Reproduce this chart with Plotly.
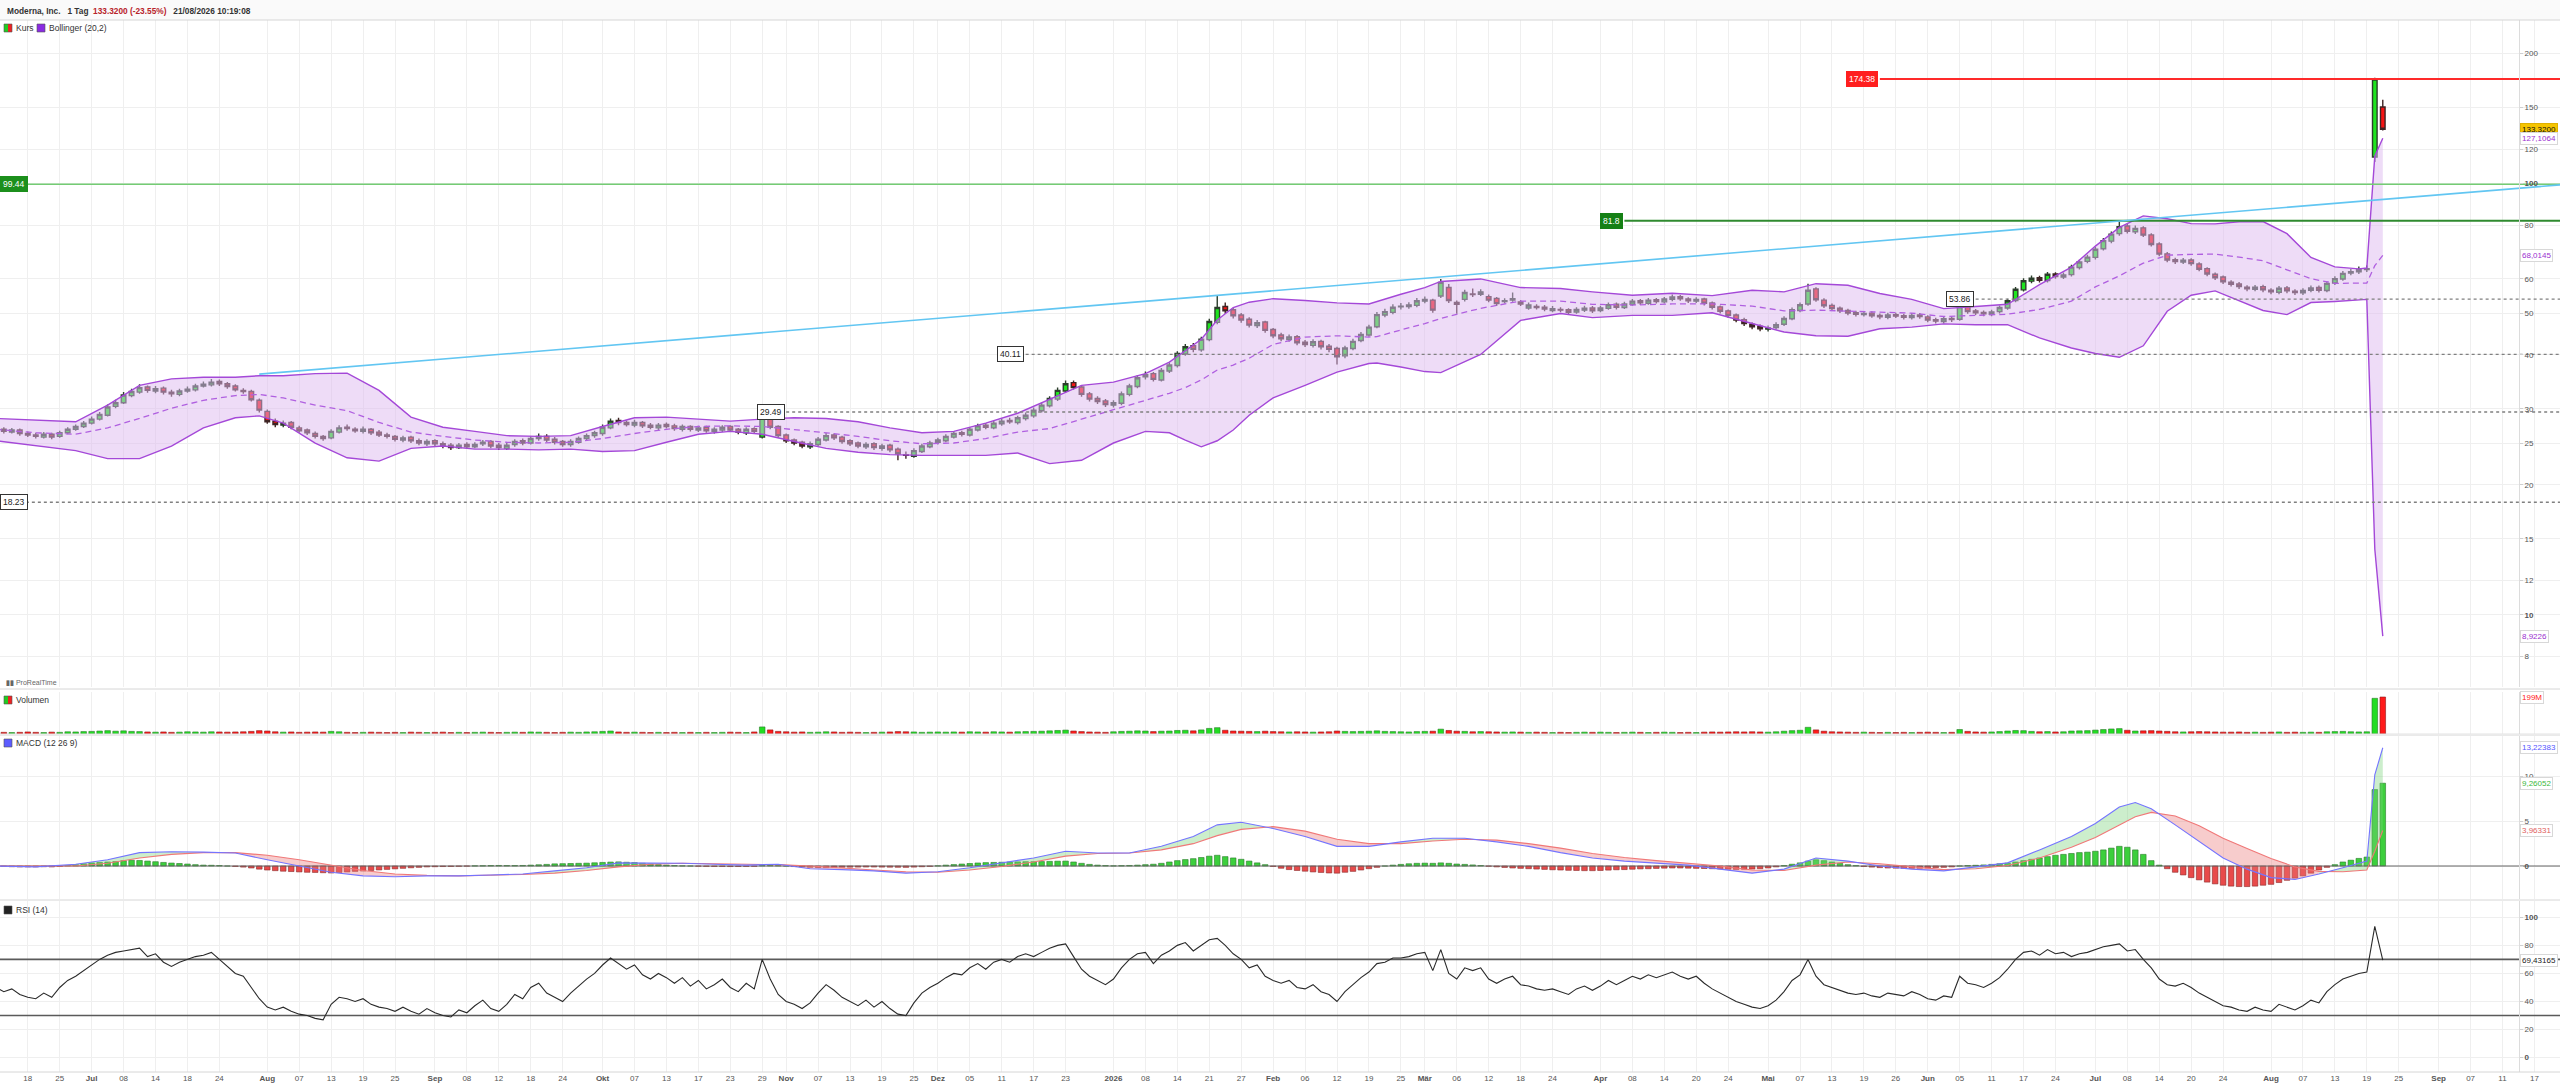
import math
import pandas as pd
import plotly.graph_objects as go

# ---------------- data ----------------
holidays = ["2025-06-19", "2025-07-04", "2025-09-01", "2025-11-27", "2025-12-25",
            "2026-01-01", "2026-01-19", "2026-02-16", "2026-04-03", "2026-05-25",
            "2026-06-19", "2026-07-03"]
first_day = "2025-06-12"
last_axis_day = "2026-09-30"

opens = [27.1, 26.9, 26.5, 26.8, 26.3, 26.1, 25.8, 26.2, 25.9, 26.4,
         26.9, 27.3, 27.8, 28.4, 29.0, 30.4, 31.0, 32.2, 32.8, 33.7,
         33.0, 33.5, 32.8, 32.4, 33.0, 33.2, 33.9, 34.1, 34.7, 34.3,
         33.9, 33.1, 32.9, 31.4, 29.6, 28.1, 27.5, 27.9, 27.1, 26.8,
         26.3, 25.9, 25.7, 26.5, 27.2, 26.9, 26.6, 26.9, 26.5, 26.1,
         25.9, 25.4, 25.8, 25.3, 24.9, 25.3, 24.9, 24.7, 24.4, 24.8,
         24.5, 24.9, 25.2, 24.7, 24.3, 24.8, 25.3, 25.0, 25.6, 25.9,
         25.5, 25.2, 24.8, 25.1, 25.6, 26.0, 26.3, 27.1, 28.2, 27.9,
         27.5, 27.9, 27.5, 27.1, 27.6, 27.4, 26.9, 27.3, 26.8, 27.2,
         26.6, 26.8, 27.3, 26.9, 26.4, 27.0, 25.8, 28.6, 27.3, 26.1,
         25.4, 25.1, 24.5, 24.8, 25.4, 26.1, 25.8, 25.3, 25.0, 24.5,
         24.9, 24.3, 24.7, 24.2, 23.5, 23.3, 23.9, 24.5, 25.1, 25.3,
         25.8, 26.4, 26.1, 26.8, 27.5, 27.1, 27.7, 28.2, 27.9, 28.5,
         28.9, 29.7, 30.5, 31.6, 33.0, 34.5, 33.7, 32.5, 31.7, 31.3,
         30.6, 30.9, 32.4, 33.8, 35.6, 36.2, 35.0, 36.7, 37.8, 40.2,
         42.0, 41.1, 43.4, 47.6, 51.8, 50.9, 49.5, 48.4, 46.8, 47.7,
         45.8, 44.5, 43.4, 44.1, 42.8, 42.1, 43.0, 41.9, 41.4, 39.8,
         41.4, 43.2, 44.5, 46.5, 49.5, 50.2, 51.7, 51.8, 52.1, 53.3,
         53.6, 54.8, 57.3, 52.9, 53.8, 55.4, 55.3, 54.6, 54.1, 53.2,
         53.6, 53.1, 51.4, 51.8, 51.6, 50.7, 51.0, 50.9, 50.3, 50.8,
         51.4, 50.7, 51.3, 52.4, 51.5, 52.4, 53.4, 52.7, 53.7, 53.1,
         53.8, 54.6, 53.9, 53.3, 53.9, 52.8, 51.7, 50.6, 49.5, 48.3,
         47.1, 46.6, 45.9, 46.3, 47.1, 48.5, 50.7, 52.5, 56.9, 53.6,
         52.1, 51.3, 50.7, 50.1, 49.6, 50.0, 49.4, 48.9, 49.6, 49.3,
         48.8, 49.5, 49.0, 48.3, 47.8, 48.6, 48.4, 51.9, 50.6, 50.2,
         49.7, 50.4, 51.4, 53.5, 56.6, 59.3, 60.4, 59.5, 61.6, 60.6,
         61.4, 63.8, 65.9, 67.3, 70.5, 73.4, 76.4, 79.6, 77.2, 78.8,
         75.9, 72.3, 68.6, 66.5, 65.7, 66.4, 65.0, 63.4, 61.5, 60.6,
         59.0, 58.4, 57.4, 56.8, 57.6, 56.5, 55.9, 57.2, 56.2, 55.7,
         56.5, 57.3, 56.4, 58.7, 60.0, 61.9, 62.3, 63.1, 115.0, 150.2]

highs = [27.4, 27.2, 27.1, 27.0, 26.6, 26.4, 26.5, 26.4, 26.7, 27.2,
         27.6, 28.1, 28.8, 29.5, 30.7, 31.5, 32.8, 33.4, 34.2, 34.0,
         33.9, 33.8, 33.2, 33.4, 33.8, 34.3, 34.7, 35.2, 35.1, 34.6,
         34.2, 33.5, 33.2, 31.7, 29.9, 28.5, 28.2, 28.1, 27.4, 27.0,
         26.6, 26.1, 26.9, 27.5, 27.6, 27.2, 27.3, 27.1, 26.8, 26.4,
         26.1, 26.0, 26.0, 25.6, 25.5, 25.5, 25.2, 25.0, 25.0, 25.1,
         25.1, 25.4, 25.4, 25.0, 25.0, 25.5, 25.6, 25.9, 26.3, 26.2,
         25.8, 25.4, 25.5, 25.9, 26.3, 26.7, 27.6, 28.5, 28.6, 28.2,
         28.3, 28.1, 27.8, 27.8, 27.9, 27.7, 27.6, 27.5, 27.4, 27.4,
         27.2, 27.5, 27.5, 27.1, 27.2, 27.2, 29.49, 28.9, 27.5, 26.3,
         25.6, 25.3, 25.2, 25.8, 26.4, 26.3, 26.0, 25.5, 25.2, 25.1,
         25.1, 24.9, 24.9, 24.4, 23.9, 24.3, 24.9, 25.3, 25.7, 26.2,
         26.6, 26.7, 27.2, 27.7, 27.8, 28.1, 28.5, 28.6, 28.9, 29.4,
         30.2, 31.0, 32.1, 33.6, 34.9, 34.9, 34.0, 32.8, 32.1, 31.6,
         31.4, 32.9, 34.3, 35.9, 36.6, 36.5, 37.3, 38.4, 40.8, 42.4,
         42.6, 44.1, 48.5, 55.0, 52.9, 51.4, 50.0, 48.9, 48.2, 48.0,
         46.2, 45.0, 44.6, 44.5, 43.3, 43.5, 43.4, 42.4, 41.8, 42.0,
         43.6, 45.2, 47.0, 50.3, 51.2, 52.4, 52.8, 53.0, 54.2, 54.6,
         54.0, 60.0, 58.4, 53.5, 56.6, 57.0, 56.8, 55.2, 54.5, 54.1,
         55.8, 53.6, 52.9, 52.4, 52.2, 51.9, 51.6, 51.3, 51.6, 52.0,
         51.9, 52.0, 52.9, 52.9, 53.1, 53.9, 53.9, 54.2, 54.2, 54.5,
         55.2, 55.1, 54.4, 54.4, 54.3, 53.2, 52.1, 51.0, 49.9, 48.8,
         47.6, 47.1, 46.8, 47.6, 49.2, 51.5, 52.9, 58.5, 57.4, 54.1,
         52.6, 51.8, 51.2, 50.6, 50.5, 50.5, 49.9, 50.1, 50.1, 49.8,
         50.0, 50.0, 49.4, 48.8, 49.1, 49.1, 53.86, 52.4, 51.1, 50.7,
         50.9, 52.1, 54.0, 57.5, 60.2, 61.1, 61.0, 62.3, 62.2, 62.1,
         64.7, 66.5, 68.3, 71.2, 74.6, 77.3, 81.8, 80.6, 79.8, 79.5,
         76.6, 73.0, 69.3, 67.2, 67.1, 67.0, 65.6, 63.9, 62.1, 61.1,
         59.6, 59.0, 58.0, 58.1, 58.2, 57.1, 57.8, 57.8, 56.8, 57.1,
         57.9, 57.9, 59.3, 60.9, 62.6, 63.3, 64.1, 64.5, 175.5, 156.0]

lows = [26.6, 26.3, 26.3, 26.0, 25.8, 25.6, 25.6, 25.5, 25.7, 26.2,
        26.7, 27.1, 27.6, 28.2, 28.8, 30.1, 30.8, 31.9, 32.5, 32.7,
        32.6, 32.4, 32.0, 32.1, 32.7, 32.9, 33.6, 33.8, 33.9, 33.4,
        32.9, 32.5, 31.2, 29.4, 27.7, 27.2, 27.2, 26.9, 26.4, 26.1,
        25.6, 25.3, 25.5, 26.3, 26.7, 26.4, 26.3, 26.1, 25.8, 25.6,
        25.2, 25.1, 25.0, 24.7, 24.6, 24.6, 24.3, 24.1, 24.2, 24.2,
        24.3, 24.6, 24.3, 24.1, 24.1, 24.5, 24.7, 24.8, 25.3, 25.1,
        24.8, 24.5, 24.5, 24.9, 25.3, 25.7, 26.0, 26.9, 27.5, 27.3,
        27.2, 27.1, 26.9, 26.8, 27.0, 26.7, 26.6, 26.6, 26.5, 26.4,
        26.3, 26.5, 26.5, 26.2, 26.1, 26.3, 25.6, 26.9, 25.7, 25.0,
        24.7, 24.3, 24.2, 24.6, 25.2, 25.4, 24.9, 24.6, 24.3, 24.2,
        24.1, 24.0, 23.8, 22.8, 23.0, 23.1, 23.7, 24.3, 24.8, 25.1,
        25.6, 25.9, 25.9, 26.6, 26.9, 26.9, 27.4, 27.7, 27.6, 28.2,
        28.6, 29.4, 30.2, 31.3, 32.7, 33.2, 32.0, 31.2, 30.8, 30.3,
        30.2, 30.6, 32.1, 33.5, 35.1, 34.7, 34.7, 36.3, 37.4, 39.8,
        40.6, 40.7, 43.0, 47.1, 49.8, 48.6, 47.5, 46.3, 46.2, 45.0,
        43.7, 43.0, 42.9, 42.1, 41.7, 41.6, 41.2, 40.6, 38.0, 39.3,
        41.0, 42.8, 44.1, 46.1, 48.9, 49.7, 51.0, 51.2, 51.6, 52.7,
        50.1, 54.2, 52.8, 49.8, 53.2, 54.5, 54.8, 53.0, 51.9, 52.6,
        53.1, 51.9, 50.9, 51.0, 50.5, 50.2, 50.2, 49.6, 49.8, 50.3,
        50.0, 50.2, 50.9, 51.0, 51.1, 52.0, 52.2, 52.3, 52.6, 52.6,
        53.3, 53.4, 52.8, 52.8, 52.1, 51.0, 49.9, 48.8, 47.6, 46.7,
        45.9, 45.4, 45.3, 45.8, 46.7, 48.1, 50.2, 52.0, 53.1, 51.4,
        50.6, 50.0, 49.4, 49.1, 49.1, 48.8, 48.4, 48.4, 48.7, 48.3,
        48.3, 48.5, 47.6, 47.3, 47.3, 47.7, 48.0, 49.8, 49.5, 49.2,
        49.2, 49.9, 50.9, 53.0, 56.1, 58.6, 58.9, 58.9, 60.1, 60.0,
        60.8, 63.1, 65.2, 66.6, 69.8, 72.6, 75.6, 76.5, 76.3, 75.0,
        71.3, 67.7, 65.6, 65.0, 65.0, 64.4, 62.5, 60.9, 59.7, 58.4,
        57.6, 56.9, 56.2, 56.2, 55.9, 55.3, 55.3, 55.6, 55.1, 55.1,
        55.9, 55.8, 55.9, 58.1, 59.4, 61.2, 61.6, 62.3, 112.0, 132.5]

closes = [26.9, 26.6, 26.8, 26.3, 26.1, 25.9, 26.2, 25.8, 26.4, 26.9,
          27.3, 27.8, 28.4, 29.1, 30.3, 31.0, 32.3, 32.9, 33.6, 33.1,
          33.4, 32.8, 32.5, 33.0, 33.3, 33.9, 34.2, 34.6, 34.3, 33.8,
          33.2, 32.9, 31.5, 29.8, 28.0, 27.6, 27.8, 27.2, 26.7, 26.4,
          25.9, 25.6, 26.6, 27.1, 27.0, 26.7, 26.9, 26.4, 26.1, 25.9,
          25.5, 25.7, 25.3, 25.0, 25.2, 24.9, 24.6, 24.4, 24.7, 24.5,
          24.8, 25.1, 24.6, 24.4, 24.7, 25.2, 25.0, 25.6, 25.9, 25.4,
          25.1, 24.8, 25.2, 25.6, 26.0, 26.4, 27.2, 28.1, 27.9, 27.6,
          27.9, 27.4, 27.2, 27.5, 27.3, 27.0, 27.3, 26.9, 27.1, 26.7,
          26.9, 27.2, 26.8, 26.5, 26.9, 26.6, 28.9, 27.2, 26.0, 25.3,
          25.0, 24.6, 24.9, 25.5, 26.0, 25.7, 25.2, 24.9, 24.6, 24.8,
          24.4, 24.6, 24.1, 23.6, 23.4, 24.0, 24.6, 25.0, 25.4, 25.9,
          26.3, 26.2, 26.9, 27.4, 27.2, 27.8, 28.1, 28.0, 28.6, 29.0,
          29.8, 30.6, 31.7, 33.1, 34.3, 33.6, 32.4, 31.6, 31.2, 30.7,
          31.0, 32.5, 33.9, 35.4, 36.0, 35.1, 36.8, 37.9, 40.3, 41.8,
          41.2, 43.5, 47.8, 51.5, 50.6, 49.3, 48.2, 46.9, 47.5, 45.6,
          44.3, 43.6, 44.0, 42.7, 42.3, 42.9, 41.8, 41.2, 39.6, 41.5,
          43.0, 44.6, 46.4, 49.6, 50.4, 51.6, 51.9, 52.2, 53.4, 53.8,
          50.8, 58.9, 53.5, 52.4, 55.8, 55.2, 56.0, 53.6, 52.6, 53.4,
          54.0, 52.5, 52.2, 51.5, 51.1, 51.2, 50.8, 50.2, 51.0, 51.3,
          50.6, 51.4, 52.3, 51.6, 52.5, 53.3, 52.8, 53.6, 53.2, 53.9,
          54.5, 54.0, 53.4, 53.8, 52.7, 51.6, 50.5, 49.4, 48.2, 47.3,
          46.5, 46.0, 46.2, 47.0, 48.6, 50.9, 52.3, 56.5, 53.7, 52.0,
          51.2, 50.6, 50.0, 49.7, 49.9, 49.3, 49.0, 49.5, 49.2, 48.9,
          49.4, 49.1, 48.2, 47.9, 48.5, 48.3, 51.8, 50.4, 50.1, 49.8,
          50.3, 51.5, 53.4, 56.8, 59.4, 60.2, 59.6, 61.5, 60.8, 61.3,
          63.9, 65.7, 67.4, 70.3, 73.6, 76.2, 79.3, 77.4, 78.6, 75.8,
          72.1, 68.5, 66.4, 65.8, 66.3, 65.1, 63.2, 61.6, 60.4, 59.1,
          58.3, 57.6, 56.9, 57.4, 56.6, 56.0, 57.1, 56.3, 55.8, 56.4,
          57.2, 56.5, 58.6, 60.1, 61.8, 62.4, 63.0, 63.4, 174.38, 133.32]

# volume in millions of shares
volume_m = [10, 9, 8, 9, 11, 9, 8, 10, 9, 12,
            11, 13, 14, 16, 18, 15, 17, 14, 13, 11,
            10, 11, 9, 10, 12, 11, 10, 12, 11, 10,
            11, 12, 14, 18, 16, 12, 10, 11, 9, 10,
            11, 10, 14, 12, 9, 8, 9, 10, 9, 8,
            9, 8, 10, 9, 8, 9, 10, 8, 9, 8,
            9, 10, 9, 8, 9, 10, 9, 11, 10, 9,
            8, 9, 10, 9, 11, 12, 14, 16, 11, 9,
            10, 9, 8, 9, 8, 9, 8, 9, 8, 9,
            8, 9, 10, 9, 8, 11, 38, 22, 14, 12,
            10, 11, 9, 10, 12, 11, 9, 10, 9, 8,
            9, 10, 11, 13, 12, 11, 9, 10, 11, 10,
            11, 10, 12, 11, 10, 12, 11, 10, 12, 13,
            14, 15, 17, 19, 21, 16, 13, 11, 10, 9,
            12, 14, 15, 17, 16, 13, 15, 16, 19, 20,
            17, 22, 30, 34, 20, 16, 15, 14, 13, 15,
            13, 12, 11, 12, 11, 10, 11, 12, 16, 14,
            13, 14, 15, 17, 14, 13, 12, 11, 13, 14,
            15, 26, 19, 15, 14, 12, 13, 12, 11, 10,
            11, 10, 9, 10, 9, 8, 9, 8, 9, 10,
            9, 10, 9, 8, 9, 10, 9, 8, 9, 10,
            9, 8, 9, 8, 10, 11, 10, 11, 12, 11,
            12, 11, 10, 12, 15, 18, 20, 36, 22, 15,
            12, 11, 10, 9, 10, 9, 8, 9, 8, 9,
            8, 9, 10, 9, 8, 9, 24, 14, 11, 10,
            11, 13, 16, 19, 18, 14, 12, 13, 11, 12,
            16, 17, 18, 21, 24, 27, 29, 20, 16, 17,
            18, 16, 14, 12, 11, 12, 13, 12, 11, 10,
            10, 11, 9, 10, 9, 10, 11, 9, 10, 9,
            10, 9, 12, 13, 14, 12, 11, 12, 192, 199]

# Bollinger (20,2), sampled on these trading-day numbers
bb_days = [0, 5, 10, 14, 18, 22, 26, 30, 33, 36, 40, 44, 48, 52, 56, 60, 64, 68, 72, 76,
           80, 84, 88, 92, 96, 100, 104, 108, 112, 116, 120, 124, 128, 132, 136, 140, 144, 147, 149, 151,
           153, 155, 157, 160, 164, 168, 172, 173, 176, 179, 181, 186, 191, 196, 200, 205, 210, 215, 220, 224,
           228, 232, 236, 240, 244, 248, 252, 256, 260, 263, 266, 269, 272, 275, 278, 281, 284, 287, 290, 293,
           296, 297, 298, 299]
bb_upper = [28.5, 28.2, 28.0, 30.6, 34.0, 35.2, 35.5, 35.5, 35.8, 35.8, 36.2, 36.3, 33.1, 28.7, 27.2, 26.6, 26.0, 25.9, 26.0, 27.3,
            28.6, 28.7, 28.4, 28.1, 28.4, 28.6, 28.5, 28.0, 27.1, 26.4, 26.6, 27.8, 29.3, 31.6, 34.0, 34.6, 36.2, 38.5, 41.0, 43.5,
            48.2, 51.5, 53.0, 54.0, 53.5, 52.8, 52.5, 53.2, 55.3, 57.3, 59.2, 60.0, 57.3, 57.0, 56.0, 55.0, 55.6, 54.9, 56.5, 56.0,
            58.5, 58.0, 55.5, 53.8, 51.2, 51.8, 52.4, 58.2, 63.9, 71.5, 79.0, 84.0, 82.7, 80.6, 80.5, 81.4, 81.5, 76.4, 67.3, 64.0,
            63.3, 63.6, 115.5, 127.1064]
bb_mid = [26.9, 26.4, 26.2, 27.1, 28.5, 30.1, 31.4, 32.2, 32.4, 31.8, 30.6, 29.7, 27.9, 26.5, 25.9, 25.4, 25.1, 25.0, 25.1, 25.6,
          26.3, 26.9, 27.3, 27.4, 27.3, 26.9, 26.4, 25.9, 25.3, 24.9, 25.0, 25.6, 26.5, 27.0, 28.4, 29.8, 31.4, 32.6, 33.6, 35.0,
          36.9, 37.9, 39.3, 42.3, 44.0, 44.3, 44.0, 44.1, 45.7, 47.3, 48.6, 51.3, 53.3, 53.3, 52.4, 52.2, 52.5, 52.5, 51.9, 50.6,
          50.8, 50.5, 50.3, 50.0, 49.1, 49.4, 49.7, 51.0, 53.3, 57.5, 61.0, 65.3, 68.1, 68.4, 68.5, 67.4, 66.1, 63.0, 60.1, 58.6,
          58.5, 58.7, 64.4, 68.0145]
bb_lower = [25.3, 24.6, 24.0, 23.0, 23.0, 24.6, 27.1, 28.6, 28.9, 27.8, 25.0, 23.1, 22.7, 24.3, 24.6, 24.2, 24.2, 24.1, 24.2, 23.9,
            24.0, 25.1, 26.2, 26.6, 26.2, 25.2, 24.3, 23.8, 23.5, 23.4, 23.4, 23.4, 23.7, 22.4, 22.8, 25.0, 26.6, 26.4, 25.4, 24.5,
            25.3, 26.8, 29.0, 31.8, 34.0, 36.5, 38.2, 38.3, 37.5, 36.6, 36.4, 40.1, 48.1, 49.9, 48.8, 49.4, 49.4, 50.1, 47.3, 45.2,
            44.3, 44.2, 46.0, 46.4, 47.2, 47.0, 47.0, 43.8, 41.5, 40.3, 39.5, 42.0, 50.5, 55.0, 56.3, 53.4, 50.7, 49.6, 52.9, 53.2,
            53.7, 53.8, 14.2, 8.9226]

# MACD (12 26 9): line and signal sampled, histogram per day
macd_days = [0, 5, 10, 14, 18, 22, 26, 30, 34, 38, 42, 46, 50, 54, 58, 62, 66, 70, 74, 78,
             82, 86, 90, 94, 98, 102, 106, 110, 114, 118, 122, 126, 130, 134, 138, 142, 146, 150, 153, 156,
             160, 164, 168, 172, 176, 180, 184, 188, 192, 196, 200, 204, 208, 212, 216, 220, 224, 228, 232, 236,
             240, 244, 248, 252, 256, 260, 263, 266, 268, 270, 273, 276, 279, 282, 285, 288, 291, 294, 297, 298,
             299]
macd_line = [0.0, -0.1, 0.2, 0.7, 1.5, 1.6, 1.55, 1.45, 0.7, 0.0, -0.7, -1.1, -1.2, -1.1, -1.1, -1.0, -0.9, -0.55, -0.2, 0.35,
             0.35, 0.3, 0.2, 0.1, 0.2, -0.3, -0.4, -0.55, -0.8, -0.65, -0.2, 0.35, 0.9, 1.65, 1.45, 1.45, 2.2, 3.3, 4.6, 4.9,
             4.2, 3.3, 2.2, 2.2, 2.7, 3.1, 3.1, 2.7, 2.2, 1.5, 0.9, 0.55, 0.35, 0.1, -0.35, -0.8, -0.35, 0.9, 0.55, 0.0,
             -0.35, -0.55, -0.1, 0.35, 1.8, 3.3, 4.75, 6.6, 7.1, 6.4, 4.6, 2.7, 0.9, -0.35, -1.3, -1.5, -0.9, -0.2, 0.55, 10.2,
             13.22383]
macd_signal = [0.0, 0.0, 0.0, 0.3, 0.9, 1.3, 1.5, 1.5, 1.2, 0.7, 0.1, -0.5, -0.9, -1.05, -1.1, -1.05, -0.95, -0.8, -0.5, -0.1,
               0.2, 0.3, 0.25, 0.15, 0.15, 0.0, -0.25, -0.45, -0.65, -0.7, -0.45, -0.05, 0.45, 1.1, 1.4, 1.45, 1.8, 2.5, 3.4, 4.1,
               4.4, 3.9, 3.0, 2.5, 2.5, 2.8, 3.0, 2.9, 2.5, 2.0, 1.4, 0.95, 0.6, 0.3, 0.0, -0.45, -0.5, 0.1, 0.45, 0.25,
               -0.1, -0.4, -0.3, 0.05, 0.9, 2.1, 3.2, 4.6, 5.5, 6.0, 5.6, 4.5, 3.1, 1.95, 0.85, -0.1, -0.6, -0.65, -0.45, 1.65,
               3.96331]
macd_hist = [-0.02, -0.05, -0.08, -0.1, -0.1, -0.1, -0.08, -0.1, -0.05, 0.05,
             0.15, 0.25, 0.35, 0.4, 0.45, 0.5, 0.6, 0.65, 0.62, 0.55,
             0.48, 0.4, 0.33, 0.28, 0.22, 0.15, 0.1, 0.08, 0.05, 0.0,
             -0.05, -0.12, -0.22, -0.35, -0.45, -0.52, -0.58, -0.62, -0.66, -0.7,
             -0.72, -0.75, -0.78, -0.72, -0.66, -0.6, -0.56, -0.5, -0.44, -0.38,
             -0.32, -0.26, -0.2, -0.15, -0.1, -0.08, -0.06, -0.05, -0.03, -0.01,
             0.02, 0.03, 0.05, 0.06, 0.05, 0.05, 0.06, 0.1, 0.14, 0.18,
             0.24, 0.26, 0.28, 0.3, 0.32, 0.36, 0.4, 0.44, 0.46, 0.42,
             0.38, 0.3, 0.22, 0.16, 0.1, 0.05, 0.02, 0.0, -0.02, -0.04,
             -0.05, -0.05, -0.06, -0.05, -0.04, -0.03, 0.05, 0.06, 0.05, 0.0,
             -0.06, -0.1, -0.14, -0.16, -0.18, -0.16, -0.14, -0.13, -0.12, -0.11,
             -0.11, -0.12, -0.13, -0.14, -0.15, -0.12, -0.08, -0.04, 0.02, 0.1,
             0.16, 0.22, 0.28, 0.34, 0.38, 0.4, 0.42, 0.44, 0.46, 0.48,
             0.48, 0.5, 0.52, 0.54, 0.55, 0.45, 0.3, 0.18, 0.1, 0.05,
             0.02, 0.04, 0.06, 0.1, 0.15, 0.2, 0.3, 0.45, 0.6, 0.72,
             0.82, 0.95, 1.1, 1.2, 1.05, 0.9, 0.75, 0.55, 0.35, 0.15,
             -0.05, -0.25, -0.4, -0.5, -0.58, -0.66, -0.72, -0.78, -0.8, -0.7,
             -0.6, -0.45, -0.3, -0.15, 0.0, 0.1, 0.18, 0.25, 0.3, 0.32,
             0.3, 0.35, 0.3, 0.22, 0.18, 0.12, 0.05, -0.02, -0.1, -0.16,
             -0.22, -0.26, -0.3, -0.34, -0.38, -0.42, -0.45, -0.48, -0.5, -0.52,
             -0.52, -0.5, -0.46, -0.42, -0.4, -0.36, -0.32, -0.3, -0.27, -0.24,
             -0.22, -0.22, -0.24, -0.26, -0.28, -0.3, -0.33, -0.36, -0.38, -0.36,
             -0.34, -0.3, -0.22, -0.1, 0.05, 0.2, 0.35, 0.55, 0.7, 0.6,
             0.45, 0.3, 0.15, 0.05, -0.05, -0.12, -0.18, -0.22, -0.24, -0.25,
             -0.26, -0.25, -0.22, -0.18, -0.15, -0.1, 0.0, 0.05, 0.08, 0.12,
             0.18, 0.25, 0.32, 0.45, 0.6, 0.75, 0.9, 1.05, 1.2, 1.3,
             1.4, 1.5, 1.55, 1.65, 1.8, 2.0, 2.2, 2.1, 1.8, 1.3,
             0.6, 0.1, -0.3, -0.7, -1.0, -1.3, -1.55, -1.8, -2.0, -2.15,
             -2.25, -2.3, -2.3, -2.25, -2.15, -2.05, -1.85, -1.6, -1.35, -1.1,
             -0.8, -0.45, -0.15, 0.15, 0.45, 0.65, 0.85, 1.0, 8.55, 9.26052]

rsi = [50, 47, 49, 45, 43, 42, 46, 43, 50, 55,
       58, 62, 66, 70, 73, 75, 76, 77, 78, 72,
       74, 68, 65, 68, 70, 72, 73, 75, 70, 65,
       60, 58, 50, 42, 36, 34, 36, 33, 31, 30,
       28, 27, 38, 43, 42, 40, 42, 38, 36, 35,
       33, 36, 33, 31, 35, 32, 30, 29, 34, 32,
       37, 41, 35, 33, 38, 45, 42, 50, 53, 46,
       43, 40, 46, 51, 56, 60, 66, 71, 67, 63,
       66, 59, 56, 60, 57, 53, 57, 51, 55, 49,
       52, 56, 50, 47, 53, 49, 70, 56, 45, 40,
       38, 35, 39, 46, 52, 48, 43, 40, 37, 41,
       36, 40, 35, 31, 30, 39, 46, 50, 53, 57,
       60, 59, 64, 67, 63, 68, 70, 68, 72, 74,
       72, 75, 78, 80, 81, 72, 63, 58, 55, 52,
       56, 64, 70, 74, 75, 67, 73, 76, 80, 82,
       76, 80, 84, 85, 80, 74, 70, 64, 66, 58,
       55, 53, 55, 50, 49, 52, 47, 45, 40, 47,
       52, 57, 61, 67, 68, 71, 71, 72, 74, 75,
       62, 77, 60, 56, 64, 62, 64, 56, 53, 56,
       58, 52, 51, 49, 48, 49, 47, 45, 49, 51,
       48, 51, 55, 52, 55, 58, 56, 59, 57, 59,
       61, 58, 56, 58, 53, 49, 46, 43, 40, 38,
       36, 35, 37, 41, 47, 55, 59, 70, 58, 52,
       50, 48, 46, 45, 46, 44, 43, 46, 45, 44,
       47, 45, 42, 41, 44, 43, 58, 53, 52, 50,
       53, 57, 63, 70, 75, 76, 73, 77, 74, 75,
       72, 74, 75, 77, 79, 80, 81, 76, 77, 70,
       64, 56, 52, 51, 53, 50, 46, 43, 40, 37,
       36, 34, 33, 36, 34, 33, 38, 36, 34, 37,
       41, 39, 47, 52, 56, 58, 60, 61, 93.5, 69.43165]

# drawn objects on the price panel
trend_dates = ["2025-07-31", "2026-09-25"]
trend_values = [36.1, 100.1]
level_values = [174.38, 99.44, 81.8, 53.86, 40.11, 29.49, 18.23]
level_from = ["2026-05-21", "2025-06-12", "2026-04-07", "2026-06-09", "2025-12-16", "2025-11-03", "2025-06-12"]

tick_dates = ["2025-06-12", "2025-06-18", "2025-06-25", "2025-07-01", "2025-07-08", "2025-07-14", "2025-07-18",
              "2025-07-24", "2025-08-01", "2025-08-07", "2025-08-13", "2025-08-19", "2025-08-25", "2025-09-02",
              "2025-09-08", "2025-09-12", "2025-09-18", "2025-09-24", "2025-10-01", "2025-10-07", "2025-10-13",
              "2025-10-17", "2025-10-23", "2025-10-29", "2025-11-03", "2025-11-07", "2025-11-13", "2025-11-19",
              "2025-11-25", "2025-12-01", "2025-12-05", "2025-12-11", "2025-12-17", "2025-12-23", "2026-01-02",
              "2026-01-08", "2026-01-14", "2026-01-21", "2026-01-27", "2026-02-02", "2026-02-06", "2026-02-12",
              "2026-02-19", "2026-02-25", "2026-03-02", "2026-03-06", "2026-03-12", "2026-03-18", "2026-03-24",
              "2026-04-01", "2026-04-08", "2026-04-14", "2026-04-20", "2026-04-24", "2026-05-01", "2026-05-07",
              "2026-05-13", "2026-05-19", "2026-05-26", "2026-06-01", "2026-06-05", "2026-06-11", "2026-06-17",
              "2026-06-24", "2026-07-01", "2026-07-08", "2026-07-14", "2026-07-20", "2026-07-24", "2026-08-03",
              "2026-08-07", "2026-08-13", "2026-08-19", "2026-08-25", "2026-09-01", "2026-09-07", "2026-09-11",
              "2026-09-17"]
tick_labels = ["12", "18", "25", "Jul", "08", "14", "18", "24", "Aug", "07", "13", "19", "25", "Sep",
               "08", "12", "18", "24", "Okt", "07", "13", "17", "23", "29", "Nov", "07", "13", "19",
               "25", "Dez", "05", "11", "17", "23", "2026", "08", "14", "21", "27", "Feb", "06", "12",
               "19", "25", "Mär", "06", "12", "18", "24", "Apr", "08", "14", "20", "24", "Mai", "07",
               "13", "19", "26", "Jun", "05", "11", "17", "24", "Jul", "08", "14", "20", "24", "Aug",
               "07", "13", "19", "25", "Sep", "07", "11", "17"]
price_ticks = [8, 10, 12, 15, 20, 25, 30, 40, 50, 60, 80, 100, 120, 150, 200]

# ---------------- build ----------------
n = len(closes)
assert len(opens) == n and len(highs) == n and len(lows) == n and len(volume_m) == n
assert len(macd_hist) == n and len(rsi) == n
assert len(bb_days) == len(bb_upper) == len(bb_mid) == len(bb_lower)
assert len(macd_days) == len(macd_line) == len(macd_signal)

days = pd.bdate_range(first_day, last_axis_day, freq="C", holidays=holidays)
dates = [d.strftime("%Y-%m-%d") for d in days]
cd = dates[:n]

FONT = "Liberation Sans"
W, H, B = 2560, 1086, 14
PH = H - B


def py(y):  # screen row -> paper fraction
    return (PH - y) / PH


def de(v, nd):
    return f"{v:.{nd}f}".replace(".", ",")


AXPOS = 2519 / W
x_range = [0.52, 321.2]
up = [c >= o for o, c in zip(opens, closes)]

fig = go.Figure()

# Bollinger band
bbx = [dates[i] for i in bb_days]
fig.add_trace(go.Scatter(x=bbx, y=bb_upper, mode="lines", line=dict(color="#a448d8", width=1.4),
                         hoverinfo="skip", xaxis="x", yaxis="y"))
fig.add_trace(go.Scatter(x=bbx, y=bb_lower, mode="lines", line=dict(color="#a448d8", width=1.4),
                         fill="tonexty", fillcolor="rgba(222,186,240,0.5)", hoverinfo="skip",
                         xaxis="x", yaxis="y"))
fig.add_trace(go.Scatter(x=bbx, y=bb_mid, mode="lines", line=dict(color="#b060e0", width=1.3, dash="6px,4px"),
                         hoverinfo="skip", xaxis="x", yaxis="y"))

# horizontal levels
level_style = [("#ff2a2a", 2, "solid"), ("#74cc74", 1.6, "solid"), ("#2f8a2f", 2, "solid"),
               ("#808080", 1.4, "3px,3px"), ("#808080", 1.4, "3px,3px"), ("#808080", 1.4, "3px,3px"),
               ("#808080", 1.4, "3px,3px")]
for v, d0, (col, lw, dash) in zip(level_values, level_from, level_style):
    xs = dates[dates.index(d0):]
    fig.add_trace(go.Scatter(x=xs, y=[v] * len(xs), mode="lines", line=dict(color=col, width=lw, dash=dash),
                             hoverinfo="skip", xaxis="x", yaxis="y"))

# trend line
fig.add_trace(go.Scatter(x=trend_dates, y=trend_values, mode="lines", line=dict(color="#62c6f2", width=1.6),
                         hoverinfo="skip", xaxis="x", yaxis="y"))

# candles
fig.add_trace(go.Candlestick(
    x=cd, open=opens, high=highs, low=lows, close=closes, xaxis="x", yaxis="y",
    increasing=dict(fillcolor="#1fe51f", line=dict(color="#2c3e2c", width=1.4)),
    decreasing=dict(fillcolor="#f51414", line=dict(color="#3e2424", width=1.4)),
    whiskerwidth=0, hoverinfo="skip"))

# volume
fig.add_trace(go.Bar(x=cd, y=[v * 1e6 for v in volume_m],
                     marker=dict(color=["#22dd22" if u else "#ff1a1a" for u in up],
                                 line=dict(color=["#2a7a2a" if u else "#8a1a1a" for u in up], width=0.6)),
                     xaxis="x2", yaxis="y2", hoverinfo="skip"))
fig.add_trace(go.Scatter(x=dates, y=[0] * len(dates), mode="lines", line=dict(color="#e2e2e2", width=1),
                         xaxis="x2", yaxis="y2", hoverinfo="skip"))

# MACD clouds
mdx = [dates[i] for i in macd_days]
for pos, col in ((True, "rgba(120,210,120,0.38)"), (False, "rgba(235,120,120,0.38)")):
    xs, ys = [], []
    for i in range(len(macd_days) - 1):
        d = (macd_line[i] - macd_signal[i]) + (macd_line[i + 1] - macd_signal[i + 1])
        if (d >= 0) == pos:
            xs += [mdx[i], mdx[i + 1], mdx[i + 1], mdx[i], mdx[i], None]
            ys += [macd_line[i], macd_line[i + 1], macd_signal[i + 1], macd_signal[i], macd_line[i], None]
    fig.add_trace(go.Scatter(x=xs, y=ys, mode="lines", fill="toself", fillcolor=col, line=dict(width=0),
                             xaxis="x3", yaxis="y3", hoverinfo="skip"))
fig.add_trace(go.Bar(x=cd, y=macd_hist,
                     marker=dict(color=["#3ccf3c" if h >= 0 else "#e84a4a" for h in macd_hist],
                                 line=dict(color=["#2a7a2a" if h >= 0 else "#8a2a2a" for h in macd_hist],
                                           width=0.6)),
                     xaxis="x3", yaxis="y3", hoverinfo="skip"))
fig.add_trace(go.Scatter(x=dates, y=[0] * len(dates), mode="lines", line=dict(color="#666666", width=1.2),
                         xaxis="x3", yaxis="y3", hoverinfo="skip"))
fig.add_trace(go.Scatter(x=mdx, y=macd_signal, mode="lines", line=dict(color="#f07878", width=1.1),
                         xaxis="x3", yaxis="y3", hoverinfo="skip"))
fig.add_trace(go.Scatter(x=mdx, y=macd_line, mode="lines", line=dict(color="#7474ff", width=1.1),
                         xaxis="x3", yaxis="y3", hoverinfo="skip"))

# RSI
for lvl in (70, 30):
    fig.add_trace(go.Scatter(x=dates, y=[lvl] * len(dates), mode="lines", line=dict(color="#5a5a5a", width=1.6),
                             xaxis="x4", yaxis="y4", hoverinfo="skip"))
fig.add_trace(go.Scatter(x=cd, y=rsi, mode="lines", line=dict(color="#2a2a2a", width=1.1),
                         xaxis="x4", yaxis="y4", hoverinfo="skip"))

# ---------------- layout ----------------
tt = [f"<b>{t}</b>" if not t.isdigit() or len(t) == 4 else t for t in tick_labels]
xbase = dict(type="category", categoryorder="array", categoryarray=dates, range=x_range,
             tickmode="array", tickvals=tick_dates, ticktext=tt, showgrid=True, gridcolor="#efefef",
             gridwidth=1, zeroline=False, showline=False, ticks="", automargin=False, fixedrange=True,
             rangeslider=dict(visible=False))
ybase = dict(anchor="free", position=AXPOS, side="right", showline=True, linecolor="#dcdcdc", linewidth=1,
             gridcolor="#efefef", gridwidth=1, zeroline=False, ticks="outside", ticklen=3, tickcolor="#cfcfcf",
             tickfont=dict(family=FONT, size=8, color="#555555"), automargin=False, fixedrange=True)

lo, hi = math.log10(6.80), math.log10(238.9)
fig.update_layout(
    width=W, height=H, margin=dict(l=0, r=0, t=0, b=B), paper_bgcolor="white", plot_bgcolor="white",
    showlegend=False, boxgap=0.18, bargap=0.3, hovermode=False,
    font=dict(family=FONT, size=8, color="#444444"),
    xaxis=dict(xbase, anchor="y", domain=[0, 1], showticklabels=False),
    xaxis2=dict(xbase, anchor="y2", domain=[0, 1], showticklabels=False),
    xaxis3=dict(xbase, anchor="y3", domain=[0, 1], showticklabels=False),
    xaxis4=dict(xbase, anchor="y4", domain=[0, 1], showticklabels=True,
                tickfont=dict(family=FONT, size=8, color="#555555")),
    yaxis=dict(ybase, type="log", domain=[py(687), py(20)], range=[lo, hi], tickmode="array",
               tickvals=price_ticks,
               ticktext=[f"<b>{t}</b>" if t in (10, 100) else str(t) for t in price_ticks]),
    yaxis2=dict(ybase, domain=[py(734), py(692)], range=[0, 226e6], showticklabels=False, showgrid=False,
                ticks=""),
    yaxis3=dict(ybase, domain=[py(899), py(736)], range=[-3.69, 14.54], tickmode="array", tickvals=[0, 5, 10],
                ticktext=["<b>0</b>", "5", "10"]),
    yaxis4=dict(ybase, domain=[0, py(901)], range=[-10.2, 111.6], tickmode="array",
                tickvals=[0, 20, 40, 60, 80, 100], ticktext=["<b>0</b>", "20", "40", "60", "80", "<b>100</b>"]),
)

shapes = [dict(type="rect", xref="paper", yref="paper", x0=0, x1=1, y0=py(20), y1=1.0,
               fillcolor="#fafafa", line=dict(width=0), layer="below")]
for yy in (20, 689, 735, 900, PH):
    shapes.append(dict(type="line", xref="paper", yref="paper", x0=0, x1=1, y0=py(yy), y1=py(yy),
                       line=dict(color="#d6d6d6", width=1)))


def icon(x0, y0, colors, size=8):
    w = size / len(colors)
    for k, c in enumerate(colors):
        shapes.append(dict(type="rect", xref="paper", yref="paper",
                           x0=(x0 + k * w) / W, x1=(x0 + (k + 1) * w) / W,
                           y0=py(y0 + size), y1=py(y0), fillcolor=c, line=dict(width=0)))
    shapes.append(dict(type="rect", xref="paper", yref="paper", x0=x0 / W, x1=(x0 + size) / W,
                       y0=py(y0 + size), y1=py(y0), line=dict(color="#555555", width=0.6)))


icon(4, 24, ["#22cc22", "#ee2222"])
icon(37, 24, ["#8a2be2"])
icon(4, 696, ["#22cc22", "#ee2222"])
icon(4, 739, ["#5c5cff"])
icon(4, 906, ["#222222"])
fig.update_layout(shapes=shapes)

ann = []


def text(x, y, s, size=8, color="#333333", **kw):
    ann.append(dict(xref="paper", yref="paper", x=x / W, y=py(y), text=s, showarrow=False,
                    xanchor="left", yanchor="middle", font=dict(family=FONT, size=size, color=color), **kw))


sp = "\u00a0\u00a0\u00a0"
sp2 = "\u00a0\u00a0"
change = (closes[-1] / closes[-2] - 1) * 100
text(5, 11, f"<b>Moderna, Inc.{sp}1 Tag{sp2}<span style='color:#b8232a'>{closes[-1]:.4f} ({change:.2f}%)</span>"
            f"{sp}21/08/2026 10:19:08</b>", size=8.3)
text(14, 28, "Kurs", size=8.5)
text(47, 28, "Bollinger (20,2)", size=8.5)
text(14, 700, "Volumen", size=8.5)
text(14, 743, "MACD (12 26 9)", size=8.5)
text(14, 910, "RSI (14)", size=8.5)
text(4, 683, "<b>▮▮</b> ProRealTime", size=7, color="#666666")

# level labels
box_style = [("#ff1f1f", "white", "#ff1f1f"), ("#1c8f1c", "white", "#1c8f1c"), ("#158015", "white", "#158015"),
             ("white", "#222222", "#333333"), ("white", "#222222", "#333333"), ("white", "#222222", "#333333"),
             ("white", "#222222", "#333333")]
for v, d0, (bg, fc, bc) in zip(level_values, level_from, box_style):
    i0 = dates.index(d0)
    if i0 == 0:
        xa = dict(xref="paper", x=0, xanchor="left")
    else:
        xa = dict(xref="x", x=i0 - 0.2, xanchor="right")
    ann.append(dict(xa, yref="y", y=math.log10(v), text=f"{v:g}", showarrow=False, yanchor="middle",
                    bgcolor=bg, bordercolor=bc, borderwidth=1, borderpad=2,
                    font=dict(family=FONT, size=8.5, color=fc)))

# value tags on the right axis


def tag(yref, y, s, fc, bg="white", bc="#d8d8d8"):
    ann.append(dict(xref="paper", x=(AXPOS * W + 1) / W, xanchor="left", yref=yref, y=y, yanchor="middle",
                    text=s, showarrow=False, bgcolor=bg, bordercolor=bc, borderwidth=1, borderpad=1,
                    font=dict(family=FONT, size=8, color=fc)))


tag("y", math.log10(closes[-1]), de(closes[-1], 4), "#111111", "#f5c400", "#e0b000")
tag("y", math.log10(bb_upper[-1]), de(bb_upper[-1], 4), "#9b30d0")
tag("y", math.log10(bb_mid[-1]), de(bb_mid[-1], 4), "#9b30d0")
tag("y", math.log10(bb_lower[-1]), de(bb_lower[-1], 4), "#9b30d0")
tag("y2", volume_m[-1] * 1e6, f"{volume_m[-1]}M", "#ff2020")
tag("y3", macd_line[-1], de(macd_line[-1], 5), "#5656ff")
tag("y3", macd_hist[-1], de(macd_hist[-1], 5), "#3cb83c")
tag("y3", macd_signal[-1], de(macd_signal[-1], 5), "#e06060")
tag("y4", rsi[-1], de(rsi[-1], 5), "#222222")
fig.update_layout(annotations=ann)

fig.write_html("out.html", config={"displayModeBar": False},
               post_script="document.body.style.margin='0';document.body.style.overflow='hidden';")
